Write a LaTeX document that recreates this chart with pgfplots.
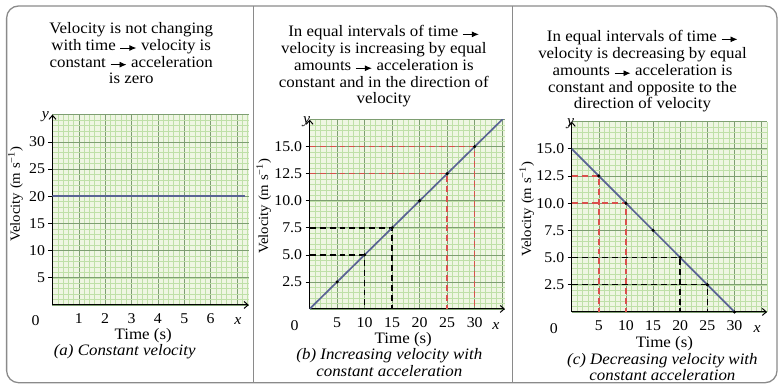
\documentclass[border=0pt]{standalone}
\usepackage{pgfplots}
\pgfplotsset{compat=1.18}
\usetikzlibrary{arrows.meta}
\usepackage{fontspec}
\setmainfont{Liberation Serif}[FakeStretch=1.06]
\definecolor{gbg}{HTML}{EFF6E3}
\definecolor{gminor}{HTML}{BFE0A8}
\definecolor{gmajor}{HTML}{7E9E72}
\definecolor{vline}{HTML}{5A6494}
\definecolor{rdash}{HTML}{D9504C}
\definecolor{framec}{HTML}{8A8A8A}
\pgfplotsset{
 panel/.style={
  scale only axis, axis lines=left,
  axis line style={black, line width=1pt, -{Straight Barb[length=4pt,width=7pt]}},
  axis background/.style={fill=gbg},
  grid=both,
  minor grid style={gminor, line width=0.45pt},
  major grid style={gmajor, line width=0.6pt},
  xticklabels={}, yticklabels={},
  major tick length=0pt, minor tick length=0pt,
  tick style={black, line width=0.6pt},
  extra x tick style={grid=none, major tick length=0pt, xticklabel style={yshift=-5pt}},
  extra y tick style={grid=none, major tick length=4pt, tick align=outside},
  tick label style={font=\fontsize{15}{15}\selectfont},
  /pgf/number format/assume math mode=true,
 },
 dsh/.style={line width=1.5pt, dash pattern=on 6pt off 4pt},
}
\newcommand\hf{\fontsize{16}{16}\selectfont}
\newsavebox\arr
\begin{document}
\sbox\arr{\tikz[baseline=-0.55ex]\draw[line width=0.9pt,-{Latex[length=7pt,width=6pt]}](0,0)--(16pt,0);}
\begin{tikzpicture}[x=1pt,y=1pt]
\useasboundingbox (0,0) rectangle (782,390);
% frame
\draw[framec, line width=1.3pt, rounded corners=12pt] (4,6) rectangle (777,384);
\draw[framec, line width=1pt] (252,6) -- (252,384);
\draw[framec, line width=1pt] (512,6) -- (512,384);

% ---------- panel a
\begin{axis}[panel, at={(50pt,84pt)}, anchor=south west, width=197pt, height=191pt,
 xmin=0, xmax=7.45, ymin=0, ymax=35,
 xtick={0,1,...,7}, ytick={0,5,...,35},
 minor xtick={0,0.2,...,7.4}, minor ytick={0,1,...,35},
 extra x ticks={1,2,3,4,5,6}, extra x tick labels={1,2,3,4,5,6},
 extra y ticks={5,10,15,20,25,30}, extra y tick labels={5,10,15,20,25,30}]
\addplot[vline, line width=1.7pt] coordinates {(0,20) (7.3,20)};
\end{axis}

% ---------- panel b
\begin{axis}[panel, at={(308pt,80pt)}, anchor=south west, width=196pt, height=190pt,
 xmin=0, xmax=35.5, ymin=0, ymax=17.5,
 xtick={0,5,...,35}, ytick={0,2.5,...,17.5},
 minor xtick={0,1,...,35}, minor ytick={0,0.5,...,17.5},
 extra x ticks={5,10,15,20,25,30}, extra x tick labels={5,10,15,20,25,30},
 extra y ticks={2.5,5,7.5,10,12.5,15}, extra y tick labels={2.5,5.0,7.5,10.0,12.5,15.0}]
\addplot[black, dsh] coordinates {(0,5) (10,5) (10,0)};
\addplot[black, dsh] coordinates {(0,7.5) (15,7.5) (15,0)};
\addplot[rdash, dsh] coordinates {(0,12.5) (25,12.5) (25,0)};
\addplot[rdash, dsh] coordinates {(0,15) (30,15) (30,0)};
\addplot[vline, line width=1.7pt] coordinates {(0,0) (35.5,17.75)};
\addplot[only marks, mark=*, mark size=1.4pt, black] coordinates {(5,2.5) (10,5) (15,7.5) (20,10) (25,12.5) (30,15)};
\end{axis}

% ---------- panel c
\begin{axis}[panel, at={(571pt,77pt)}, anchor=south west, width=196pt, height=191pt,
 xmin=0, xmax=36, ymin=0, ymax=17.5,
 xtick={0,5,...,35}, ytick={0,2.5,...,17.5},
 minor xtick={0,1,...,36}, minor ytick={0,0.5,...,17.5},
 extra x ticks={5,10,15,20,25,30}, extra x tick labels={5,10,15,20,25,30},
 extra y ticks={2.5,5,7.5,10,12.5,15}, extra y tick labels={2.5,5.0,7.5,10.0,12.5,15.0}]
\addplot[rdash, dsh] coordinates {(0,12.5) (5,12.5) (5,0)};
\addplot[rdash, dsh] coordinates {(0,10) (10,10) (10,0)};
\addplot[black, dsh] coordinates {(0,5) (20,5) (20,0)};
\addplot[black, dsh] coordinates {(0,2.5) (25,2.5) (25,0)};
\addplot[vline, line width=1.7pt] coordinates {(0,15) (30,0)};
\addplot[only marks, mark=*, mark size=1.4pt, black] coordinates {(5,12.5) (10,10) (15,7.5) (20,5) (25,2.5) (30,0)};
\end{axis}

% ---------- headers
\begin{scope}[every node/.style={anchor=base, font=\hf, inner sep=0pt}]
\node at (129,356) {Velocity is not changing};
\node at (129,339.3) {with time \usebox\arr{} velocity is};
\node at (129,322.6) {constant \usebox\arr{} acceleration};
\node at (129,306) {is zero};
\node at (382.5,353) {In equal intervals of time \usebox\arr};
\node at (382.5,336) {velocity is increasing by equal};
\node at (382.5,319) {amounts \usebox\arr{} acceleration is};
\node at (382.5,302) {constant and in the direction of};
\node at (382.5,286) {velocity};
\node at (642,348) {In equal intervals of time \usebox\arr};
\node at (642,331) {velocity is decreasing by equal};
\node at (642,314) {amounts \usebox\arr{} acceleration is};
\node at (642,297) {constant and opposite to the};
\node at (642,281) {direction of velocity};
% bottom
\node at (141,49) {Time (s)};
\node at (122.5,33) {\itshape (a) Constant velocity};
\node at (402,45) {Time (s)};
\node at (388,29) {\itshape (b) Increasing velocity with};
\node at (388,12) {\itshape constant acceleration};
\node at (664,41) {Time (s)};
\node at (662,24) {\itshape (c) Decreasing velocity with};
\node at (662,8) {\itshape constant acceleration};
\end{scope}
\begin{scope}[every node/.style={font=\fontsize{15}{15}\selectfont, inner sep=0pt}]
\node at (33,68) {0};
\node at (293,63) {0};
\node at (553,60) {0};
\node at (236,68) {\itshape x};
\node at (495,63) {\itshape x};
\node at (757,60) {\itshape x};
\node at (43,273) {\itshape y};
\node at (305,268) {\itshape y};
\node at (570,266) {\itshape y};
\node[rotate=90, font=\fontsize{14}{14}\selectfont] at (13,195) {Velocity (m s\textsuperscript{−1})};
\node[rotate=90, font=\fontsize{14}{14}\selectfont] at (262,183) {Velocity (m s\textsuperscript{−1})};
\node[rotate=90, font=\fontsize{14}{14}\selectfont] at (526,180) {Velocity (m s\textsuperscript{−1})};
\end{scope}
\end{tikzpicture}
\end{document}
